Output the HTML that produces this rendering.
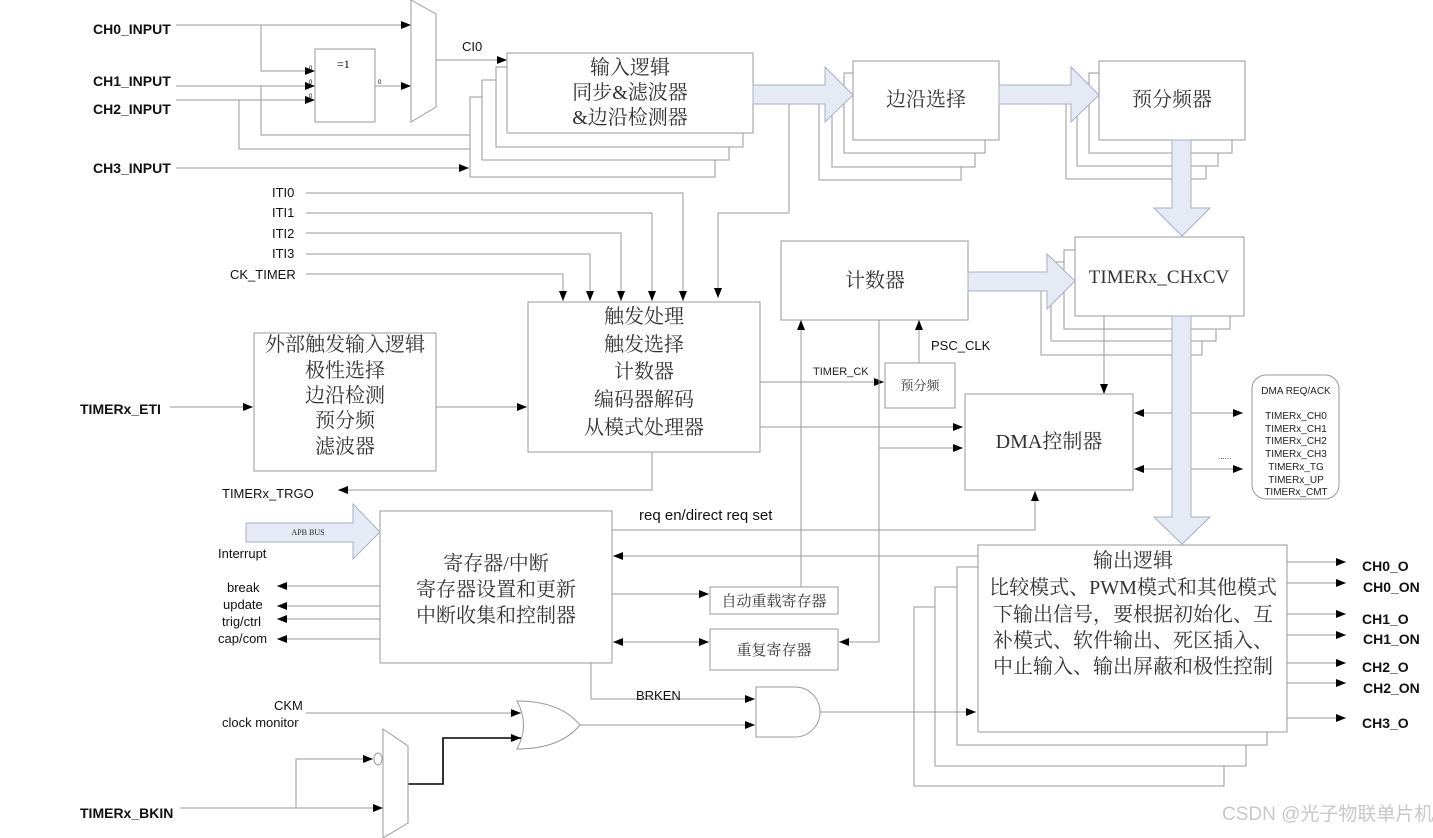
<!DOCTYPE html>
<html><head><meta charset="utf-8"><style>
html,body{margin:0;padding:0;background:#fff;}
svg{display:block;}
.l{stroke:#9a9a9a;stroke-width:1;fill:none;}
.b{stroke:#9a9a9a;stroke-width:1;fill:#fff;}
.ba{fill:#e6eaf5;stroke:#a8b0c4;stroke-width:1;}
.s{font-family:"Liberation Sans",sans-serif;font-size:13px;fill:#111;}
.bd{font-family:"Liberation Sans",sans-serif;font-size:14px;font-weight:bold;fill:#111;}
.cn{font-family:"Liberation Serif","Noto Serif CJK SC",serif;font-size:20px;fill:#333;}
.sm{font-family:"Liberation Sans",sans-serif;font-size:10px;fill:#222;}
</style></head><body>
<svg width="1433" height="838" viewBox="0 0 1433 838" xmlns="http://www.w3.org/2000/svg">
<defs>
<marker id="a" markerWidth="10" markerHeight="8" refX="10" refY="4" orient="auto" markerUnits="userSpaceOnUse"><path d="M0,0 L10,4 L0,8 z" fill="#000"/></marker>
<marker id="s" markerWidth="10" markerHeight="8" refX="0" refY="4" orient="auto" markerUnits="userSpaceOnUse"><path d="M10,0 L0,4 L10,8 z" fill="#000"/></marker>
</defs>

<text class="bd" x="93" y="34">CH0_INPUT</text>
<text class="bd" x="93" y="86">CH1_INPUT</text>
<text class="bd" x="93" y="114">CH2_INPUT</text>
<text class="bd" x="93" y="173">CH3_INPUT</text>
<path class="l" d="M176,25 H411" marker-end="url(#a)"/>
<path class="l" d="M261,25 V71 H315" marker-end="url(#a)"/>
<path class="l" d="M176,86 H315" marker-end="url(#a)"/>
<path class="l" d="M176,100 H315" marker-end="url(#a)"/>
<path class="l" d="M261,86 V135 H496" marker-end="url(#a)"/>
<path class="l" d="M239,100 V149 H482" marker-end="url(#a)"/>
<path class="l" d="M176,168 H469" marker-end="url(#a)"/>
<rect class="b" x="315" y="49" width="60" height="73"/>
<text x="337" y="68" font-family="Liberation Serif" font-size="12">=1</text>
<text x="309" y="70" font-size="6" font-family="Liberation Sans">0</text>
<text x="309" y="84" font-size="6" font-family="Liberation Sans">0</text>
<text x="309" y="98" font-size="6" font-family="Liberation Sans">0</text>
<text x="378" y="84" font-size="6" font-family="Liberation Sans">0</text>
<path class="l" d="M375,86 H411" marker-end="url(#a)"/>
<path class="b" d="M411,0 L436,14 L436,107 L411,122 Z"/>
<path class="l" d="M436,60 H507" marker-end="url(#a)"/>
<text class="s" x="462" y="51">CI0</text>

<rect class="b" x="470" y="97" width="245" height="80"/>
<rect class="b" x="482" y="80" width="247" height="80"/>
<rect class="b" x="496" y="67" width="247" height="80"/>
<rect class="b" x="507" y="53" width="246" height="80"/>
<text class="cn" x="630" y="74" text-anchor="middle">输入逻辑</text>
<text class="cn" x="630" y="99" text-anchor="middle">同步&amp;滤波器</text>
<text class="cn" x="630" y="124" text-anchor="middle">&amp;边沿检测器</text>

<rect class="b" x="819" y="100" width="142" height="80"/>
<rect class="b" x="832" y="86" width="143" height="81"/>
<rect class="b" x="844" y="73" width="141" height="80"/>
<rect class="b" x="853" y="61" width="146" height="79"/>
<text class="cn" x="926" y="106" text-anchor="middle">边沿选择</text>
<path class="ba" d="M753,85 H825 V67 L853,95 L825,122 V104 H753 Z"/>
<path class="l" d="M789,104 V213 H718 V298" marker-end="url(#a)"/>

<rect class="b" x="1066" y="100" width="140" height="79"/>
<rect class="b" x="1077" y="86" width="141" height="80"/>
<rect class="b" x="1089" y="73" width="143" height="80"/>
<rect class="b" x="1099" y="61" width="146" height="79"/>
<text class="cn" x="1172" y="106" text-anchor="middle">预分频器</text>
<path class="ba" d="M999,85 H1071 V67 L1099,95 L1071,122 V104 H999 Z"/>
<path class="ba" d="M1172,140 H1191 V208 H1210 L1182,236 L1154,208 H1172 Z"/>

<rect class="b" x="1041" y="275" width="161" height="80"/>
<rect class="b" x="1051" y="262" width="165" height="79"/>
<rect class="b" x="1064" y="250" width="166" height="79"/>
<rect class="b" x="1075" y="237" width="169" height="79"/>
<text x="1159" y="283" text-anchor="middle" font-family="Liberation Serif" font-size="19" fill="#333">TIMERx_CHxCV</text>
<path class="l" d="M1104,316 V394" marker-end="url(#a)"/>

<rect class="b" x="781" y="241" width="187" height="79"/>
<text class="cn" x="875" y="287" text-anchor="middle">计数器</text>
<path class="ba" d="M968,272 H1047 V254 L1075,281 L1047,309 V291 H968 Z"/>

<text class="s" x="272" y="197">ITI0</text>
<text class="s" x="272" y="217">ITI1</text>
<text class="s" x="272" y="238">ITI2</text>
<text class="s" x="272" y="258">ITI3</text>
<text class="s" x="230" y="279">CK_TIMER</text>
<path class="l" d="M306,193 H683 V301" marker-end="url(#a)"/>
<path class="l" d="M306,213 H652 V301" marker-end="url(#a)"/>
<path class="l" d="M306,233 H621 V301" marker-end="url(#a)"/>
<path class="l" d="M306,254 H590 V301" marker-end="url(#a)"/>
<path class="l" d="M306,274 H563 V301" marker-end="url(#a)"/>

<rect class="b" x="528" y="302" width="232" height="150"/>
<text class="cn" x="644" y="323" text-anchor="middle">触发处理</text>
<text class="cn" x="644" y="351" text-anchor="middle">触发选择</text>
<text class="cn" x="644" y="378" text-anchor="middle">计数器</text>
<text class="cn" x="644" y="406" text-anchor="middle">编码器解码</text>
<text class="cn" x="644" y="434" text-anchor="middle">从模式处理器</text>

<rect class="b" x="254" y="333" width="182" height="138"/>
<text class="cn" x="345" y="351" text-anchor="middle">外部触发输入逻辑</text>
<text class="cn" x="345" y="377" text-anchor="middle">极性选择</text>
<text class="cn" x="345" y="402" text-anchor="middle">边沿检测</text>
<text class="cn" x="345" y="427" text-anchor="middle">预分频</text>
<text class="cn" x="345" y="453" text-anchor="middle">滤波器</text>
<text class="bd" x="80" y="414">TIMERx_ETI</text>
<path class="l" d="M170,407 H253" marker-end="url(#a)"/>
<path class="l" d="M436,407 H527" marker-end="url(#a)"/>
<path class="l" d="M652,452 V490 H338" marker-end="url(#a)"/>
<text class="s" x="222" y="498">TIMERx_TRGO</text>

<path class="l" d="M760,382 H884" marker-end="url(#a)"/>
<text x="813" y="375" font-family="Liberation Sans" font-size="11" fill="#222">TIMER_CK</text>
<rect class="b" x="885" y="363" width="70" height="45"/>
<text x="920" y="390" text-anchor="middle" font-family="Liberation Serif,Noto Serif CJK SC,serif" font-size="13" fill="#333">预分频</text>
<path class="l" d="M919,363 V320" marker-end="url(#a)"/>
<text class="s" x="931" y="350">PSC_CLK</text>
<path class="l" d="M801,587 V320" marker-end="url(#a)"/>
<path class="l" d="M879,320 V642 H839" marker-end="url(#a)"/>
<path class="l" d="M879,448 H963" marker-end="url(#a)"/>
<path class="l" d="M760,427 H963" marker-end="url(#a)"/>

<rect class="b" x="965" y="394" width="168" height="96"/>
<text class="cn" x="1049" y="448" text-anchor="middle">DMA控制器</text>
<path class="l" d="M1134,413 H1243" marker-start="url(#s)" marker-end="url(#a)"/>
<path class="l" d="M1134,469 H1243" marker-start="url(#s)" marker-end="url(#a)"/>
<text x="1218" y="459" font-family="Liberation Sans" font-size="8" fill="#222">......</text>
<rect class="b" x="1252" y="375" width="87" height="124" rx="14"/>
<text class="sm" x="1296" y="394" text-anchor="middle">DMA REQ/ACK</text>
<text class="sm" x="1296" y="419" text-anchor="middle">TIMERx_CH0</text>
<text class="sm" x="1296" y="432" text-anchor="middle">TIMERx_CH1</text>
<text class="sm" x="1296" y="444" text-anchor="middle">TIMERx_CH2</text>
<text class="sm" x="1296" y="457" text-anchor="middle">TIMERx_CH3</text>
<text class="sm" x="1296" y="470" text-anchor="middle">TIMERx_TG</text>
<text class="sm" x="1296" y="483" text-anchor="middle">TIMERx_UP</text>
<text class="sm" x="1296" y="495" text-anchor="middle">TIMERx_CMT</text>
<path class="l" d="M612,530 H1035 V491" marker-end="url(#a)"/>
<text x="639" y="520" font-family="Liberation Sans" font-size="15" fill="#111">req en/direct req set</text>
<path class="l" d="M978,556 H613" marker-end="url(#a)"/>

<rect class="b" x="914" y="607" width="310" height="179"/>
<rect class="b" x="935" y="587" width="311" height="179"/>
<rect class="b" x="957" y="567" width="310" height="178"/>
<rect class="b" x="978" y="545" width="309" height="187"/>
<path class="ba" d="M1172,316 H1191 V517 H1210 L1182,544 L1154,517 H1172 Z"/>
<text class="cn" x="1133" y="567" text-anchor="middle">输出逻辑</text>
<text class="cn" x="1133" y="594" text-anchor="middle">比较模式、PWM模式和其他模式</text>
<text class="cn" x="1133" y="621" text-anchor="middle">下输出信号，要根据初始化、互</text>
<text class="cn" x="1133" y="647" text-anchor="middle">补模式、软件输出、死区插入、</text>
<text class="cn" x="1133" y="673" text-anchor="middle">中止输入、输出屏蔽和极性控制</text>
<path class="l" d="M1287,562 H1346" marker-end="url(#a)"/>
<path class="l" d="M1287,583 H1346" marker-end="url(#a)"/>
<path class="l" d="M1287,614 H1346" marker-end="url(#a)"/>
<path class="l" d="M1287,635 H1346" marker-end="url(#a)"/>
<path class="l" d="M1287,663 H1346" marker-end="url(#a)"/>
<path class="l" d="M1287,683 H1346" marker-end="url(#a)"/>
<path class="l" d="M1287,718 H1346" marker-end="url(#a)"/>
<text class="bd" x="1362" y="571">CH0_O</text>
<text class="bd" x="1363" y="592">CH0_ON</text>
<text class="bd" x="1362" y="624">CH1_O</text>
<text class="bd" x="1363" y="644">CH1_ON</text>
<text class="bd" x="1362" y="672">CH2_O</text>
<text class="bd" x="1363" y="693">CH2_ON</text>
<text class="bd" x="1362" y="728">CH3_O</text>

<rect class="b" x="380" y="511" width="232" height="152"/>
<text class="cn" x="496" y="570" text-anchor="middle">寄存器/中断</text>
<text class="cn" x="496" y="596" text-anchor="middle">寄存器设置和更新</text>
<text class="cn" x="496" y="622" text-anchor="middle">中断收集和控制器</text>
<path class="ba" d="M246,523 H353 V504 L380,532 L353,559 V542 H246 Z"/>
<text x="308" y="535" text-anchor="middle" font-family="Liberation Serif" font-size="8" fill="#222">APB BUS</text>
<text class="s" x="218" y="558">Interrupt</text>
<text class="s" x="227" y="592">break</text>
<text class="s" x="223" y="609">update</text>
<text class="s" x="222" y="626">trig/ctrl</text>
<text class="s" x="218" y="643">cap/com</text>
<path class="l" d="M380,586 H277" marker-end="url(#a)"/>
<path class="l" d="M380,606 H277" marker-end="url(#a)"/>
<path class="l" d="M380,619 H277" marker-end="url(#a)"/>
<path class="l" d="M380,639 H277" marker-end="url(#a)"/>
<path class="l" d="M612,594 H709" marker-end="url(#a)"/>
<rect class="b" x="710" y="587" width="128" height="27"/>
<text x="774" y="606" text-anchor="middle" font-family="Liberation Serif,Noto Serif CJK SC,serif" font-size="15" fill="#333">自动重载寄存器</text>
<path class="l" d="M613,642 H709" marker-start="url(#s)" marker-end="url(#a)"/>
<rect class="b" x="710" y="629" width="128" height="41"/>
<text x="774" y="655" text-anchor="middle" font-family="Liberation Serif,Noto Serif CJK SC,serif" font-size="15" fill="#333">重复寄存器</text>

<path class="l" d="M591,663 V699 H755" marker-end="url(#a)"/>
<text class="s" x="636" y="700">BRKEN</text>
<path class="b" d="M756,687 H795 A25,25 0 0 1 795,737 H756 Z"/>
<path class="l" d="M820,712 H976" marker-end="url(#a)"/>
<path class="b" d="M517,701 Q560,701 580,725 Q560,749 517,749 Q530,725 517,701 Z"/>
<path class="l" d="M580,725 H755" marker-end="url(#a)"/>
<text class="s" x="274" y="710">CKM</text>
<text class="s" x="222" y="727">clock monitor</text>
<path class="l" d="M306,713 H521" marker-end="url(#a)"/>
<path d="M408,784 H443 V738 H521" stroke="#000" stroke-width="1.6" fill="none" marker-end="url(#a)"/>
<path class="b" d="M383,729 L408,746 L408,823 L383,838 Z"/>
<ellipse cx="378" cy="759" rx="4" ry="6" fill="#fff" stroke="#999"/>
<path class="l" d="M296,808 V759 H373" marker-end="url(#a)"/>
<path class="l" d="M180,808 H383" marker-end="url(#a)"/>
<text class="bd" x="80" y="818">TIMERx_BKIN</text>

<text x="1222" y="820" font-family="Liberation Sans,Noto Sans CJK SC,sans-serif" font-size="19" fill="#c8c8c8">CSDN @光子物联单片机</text>
</svg>
</body></html>
